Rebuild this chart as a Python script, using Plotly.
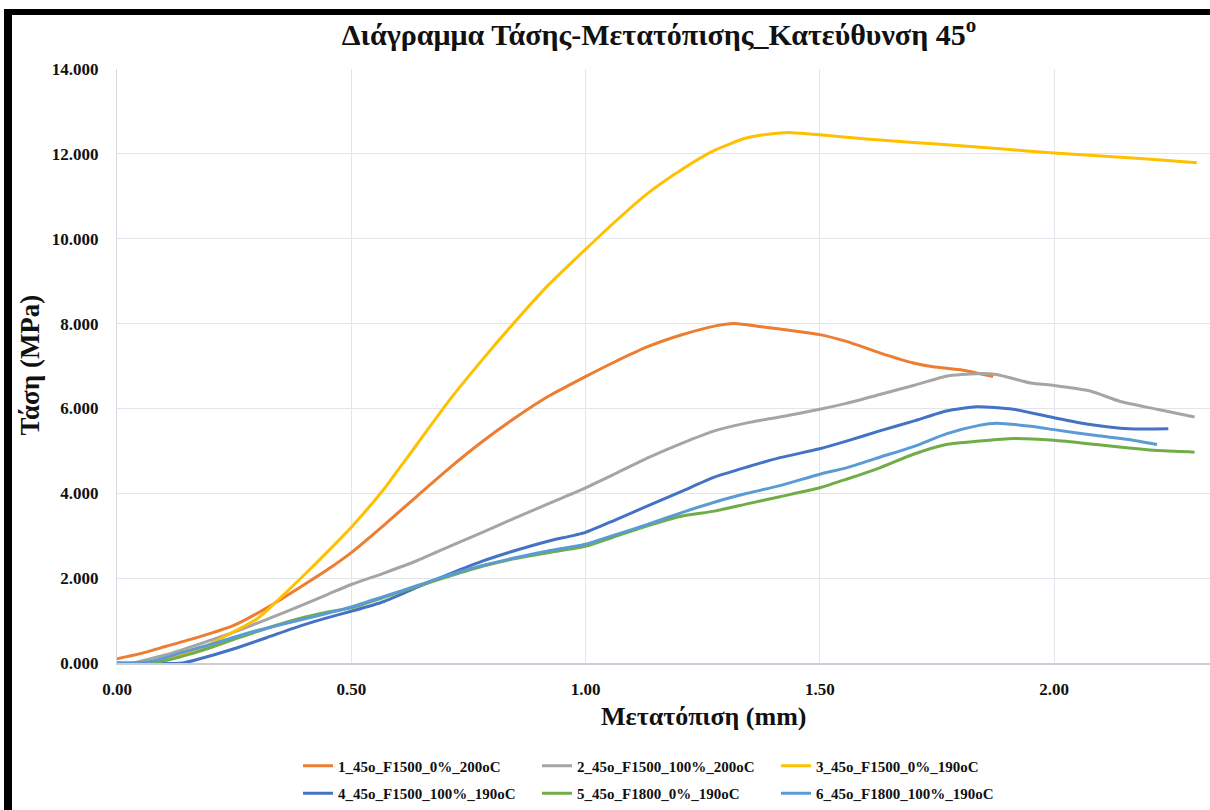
import plotly.graph_objects as go

# Μετατόπιση (mm) / Τάση (MPa) readings for each specimen
x1 = [0.00, 0.05, 0.107, 0.177, 0.248, 0.32, 0.39, 0.46, 0.50, 0.57, 0.64, 0.71, 0.78, 0.85, 0.92,
      1.00, 1.063, 1.134, 1.204, 1.275, 1.317, 1.38, 1.45, 1.50, 1.557, 1.628, 1.70, 1.742, 1.806, 1.87]
y1 = [0.10, 0.22, 0.40, 0.62, 0.88, 1.30, 1.78, 2.28, 2.60, 3.25, 3.93, 4.60, 5.22, 5.78, 6.28,
      6.75, 7.10, 7.46, 7.73, 7.94, 8.00, 7.92, 7.82, 7.74, 7.58, 7.31, 7.07, 6.98, 6.90, 6.75]

x2 = [0.035, 0.107, 0.177, 0.248, 0.32, 0.39, 0.45, 0.50, 0.57, 0.64, 0.71, 0.78, 0.85, 0.92, 1.00,
      1.063, 1.134, 1.204, 1.275, 1.345, 1.415, 1.50, 1.557, 1.628, 1.70, 1.77, 1.835, 1.877, 1.95,
      2.00, 2.077, 2.14, 2.22, 2.30]
y2 = [0.00, 0.20, 0.45, 0.72, 1.03, 1.34, 1.62, 1.85, 2.12, 2.41, 2.75, 3.08, 3.42, 3.75, 4.13,
      4.46, 4.84, 5.17, 5.47, 5.66, 5.80, 5.98, 6.12, 6.33, 6.54, 6.76, 6.82, 6.80, 6.60,
      6.54, 6.41, 6.17, 5.98, 5.80]

x3 = [0.05, 0.10, 0.177, 0.248, 0.30, 0.35, 0.40, 0.45, 0.50, 0.57, 0.60, 0.64, 0.71, 0.78, 0.85, 0.92,
      1.00, 1.063, 1.134, 1.204, 1.275, 1.345, 1.415, 1.44, 1.50, 1.60, 1.70, 1.80, 1.885, 2.00,
      2.10, 2.20, 2.305]
y3 = [0.00, 0.08, 0.33, 0.73, 1.05, 1.55, 2.08, 2.63, 3.20, 4.10, 4.55, 5.15, 6.20, 7.15, 8.05, 8.90,
      9.75, 10.40, 11.08, 11.62, 12.08, 12.38, 12.49, 12.50, 12.45, 12.35, 12.27, 12.19, 12.12, 12.02,
      11.95, 11.88, 11.79]

x4 = [0.00, 0.14, 0.177, 0.248, 0.32, 0.39, 0.45, 0.50, 0.57, 0.64, 0.71, 0.78, 0.85, 0.92, 1.00,
      1.063, 1.134, 1.204, 1.275, 1.345, 1.415, 1.50, 1.557, 1.628, 1.70, 1.77, 1.835, 1.913, 2.00,
      2.077, 2.16, 2.244]
y4 = [0.00, 0.00, 0.10, 0.33, 0.60, 0.87, 1.07, 1.22, 1.45, 1.78, 2.10, 2.40, 2.65, 2.87, 3.08,
      3.37, 3.71, 4.04, 4.38, 4.62, 4.84, 5.05, 5.23, 5.47, 5.70, 5.94, 6.04, 5.98, 5.78,
      5.62, 5.52, 5.52]

x5 = [0.05, 0.10, 0.177, 0.248, 0.32, 0.39, 0.45, 0.50, 0.57, 0.64, 0.71, 0.78, 0.85, 0.92, 1.00,
      1.063, 1.134, 1.204, 1.275, 1.345, 1.415, 1.50, 1.557, 1.628, 1.70, 1.77, 1.84, 1.913, 2.00,
      2.09, 2.16, 2.234, 2.30]
y5 = [0.00, 0.05, 0.28, 0.55, 0.82, 1.05, 1.20, 1.30, 1.55, 1.80, 2.05, 2.28, 2.46, 2.60, 2.75,
      2.98, 3.24, 3.46, 3.58, 3.75, 3.92, 4.13, 4.33, 4.60, 4.92, 5.15, 5.23, 5.29, 5.25,
      5.15, 5.07, 5.00, 4.97]

x6 = [0.00, 0.07, 0.14, 0.213, 0.284, 0.355, 0.43, 0.50, 0.57, 0.64, 0.71, 0.78, 0.85, 0.92, 1.00,
      1.063, 1.134, 1.204, 1.275, 1.345, 1.415, 1.50, 1.557, 1.628, 1.70, 1.77, 1.84, 1.877, 1.95,
      2.00, 2.09, 2.16, 2.22]
y6 = [0.00, 0.03, 0.25, 0.48, 0.72, 0.92, 1.12, 1.32, 1.57, 1.82, 2.08, 2.30, 2.48, 2.64, 2.80,
      3.02, 3.27, 3.54, 3.79, 4.00, 4.18, 4.45, 4.60, 4.85, 5.10, 5.40, 5.60, 5.65, 5.58,
      5.50, 5.36, 5.27, 5.15]

names = ["1_45o_F1500_0%_200oC", "2_45o_F1500_100%_200oC", "3_45o_F1500_0%_190oC",
         "4_45o_F1500_100%_190oC", "5_45o_F1800_0%_190oC", "6_45o_F1800_100%_190oC"]
colors = ["#ED7D31", "#A5A5A5", "#FFC000", "#4472C4", "#70AD47", "#5B9BD5"]
xs = [x1, x2, x3, x4, x5, x6]
ys = [y1, y2, y3, y4, y5, y6]

SERIF = "Liberation Serif"
INK = "#111111"

W, H = 1210, 810
ML, MR, MT, MB = 117, 0, 69, 146
PW, PH = W - ML - MR, H - MT - MB

fig = go.Figure()
for i, (x, y, n, c) in enumerate(zip(xs, ys, names, colors)):
    fig.add_trace(go.Scatter(
        x=x, y=y, name=n, mode="lines",
        line=dict(color=c, width=3, shape="spline", smoothing=0.6),
        legend="legend" if i < 3 else "legend2",
    ))


def px_x(p):
    return (p - ML) / PW


def px_y(p):
    return (H - MB - p) / PH


def bold(size):
    return dict(family=SERIF, size=size, color=INK, weight="bold")


legend_style = dict(
    orientation="h", xanchor="left", yanchor="middle",
    font=bold(15),
    entrywidth=194, entrywidthmode="pixels",
    bgcolor="rgba(0,0,0,0)", itemclick=False,
)

fig.update_layout(
    width=W, height=H,
    margin=dict(l=ML, r=MR, t=MT, b=MB),
    paper_bgcolor="white", plot_bgcolor="white",
    title=dict(
        text="Διάγραμμα Τάσης-Μετατόπισης_Κατεύθυνση 45<sup>ο</sup>",
        x=659 / W, xanchor="center", y=1 - 34 / H, yanchor="middle",
        font=bold(30),
    ),
    xaxis=dict(
        range=[0, PW / 468.5], tick0=0, dtick=0.5, tickformat=".2f",
        showgrid=True, gridcolor="#e2e5ec", gridwidth=1,
        showline=True, linecolor="#c9ced8", linewidth=2,
        zeroline=False, ticks="outside", ticklen=10, tickcolor="rgba(0,0,0,0)",
        tickfont=bold(17),
    ),
    yaxis=dict(
        range=[0, 14], tick0=0, dtick=2, tickformat=",.3f",
        showgrid=True, gridcolor="#e2e5ec", gridwidth=1,
        showline=True, linecolor="#d6dae2", linewidth=1,
        zeroline=False, ticks="outside", ticklen=14, tickcolor="rgba(0,0,0,0)",
        tickfont=bold(17),
    ),
    showlegend=True,
    legend=dict(x=px_x(298), y=px_y(766), **legend_style),
    legend2=dict(x=px_x(298), y=px_y(795), **legend_style),
    annotations=[
        dict(text="Μετατόπιση (mm)", xref="paper", yref="paper",
             x=px_x(703), y=px_y(718), xanchor="center", yanchor="middle",
             showarrow=False, font=bold(26)),
        dict(text="Τάση (MPa)", xref="paper", yref="paper",
             x=px_x(30), y=px_y(366), xanchor="center", yanchor="middle",
             textangle=-90, showarrow=False, font=bold(27)),
    ],
    shapes=[
        # frame strokes along the left and top edges
        dict(type="rect", xref="paper", yref="paper", layer="above",
             x0=px_x(4), x1=px_x(12), y0=px_y(H + 5), y1=px_y(9),
             fillcolor="black", line=dict(width=0)),
        dict(type="rect", xref="paper", yref="paper", layer="above",
             x0=px_x(4), x1=px_x(W + 5), y0=px_y(15), y1=px_y(9),
             fillcolor="black", line=dict(width=0)),
    ],
)

fig.write_html("out.html")
